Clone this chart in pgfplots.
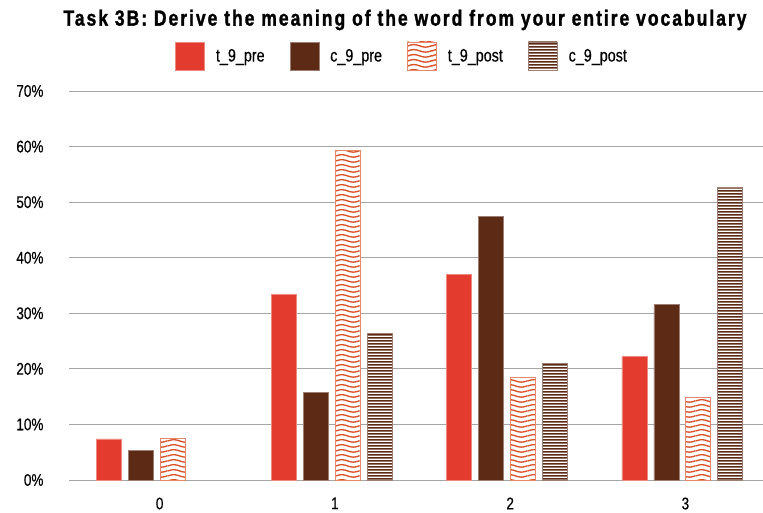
\documentclass[border=0pt]{standalone}
\usepackage{pgfplots}
\pgfplotsset{compat=1.18}
\usetikzlibrary{patterns.meta}
\usepackage{fontspec}
\setmainfont{Liberation Sans}[FakeStretch=0.8, FakeBold=0.4]
\newfontfamily\titlefont{Liberation Sans}[FakeStretch=0.8, LetterSpace=9, FakeBold=1.3]
\definecolor{tred}{HTML}{E33B2E}
\definecolor{cbrown}{HTML}{5C2A15}
\definecolor{worange}{HTML}{D9532B}
\definecolor{gridgray}{HTML}{A6A6A6}
\tikzdeclarepattern{
  name=wavy, type=uncolored,
  bounding box={(0bp,0bp) and (24bp,5bp)},
  tile size={(24bp,5bp)},
  code={\draw[line width=1.6bp] (-0.5bp,2.5bp) -- (0bp,2.5bp) sin (6bp,4bp) cos (12bp,2.5bp) sin (18bp,1bp) cos (24bp,2.5bp) -- (24.5bp,2.5bp);}
}
\tikzdeclarepattern{
  name=hstripes, type=uncolored,
  bounding box={(0bp,0bp) and (48bp,3bp)},
  tile size={(48bp,3bp)},
  code={\fill (-1bp,0.5bp) rectangle (49bp,2.5bp);}
}
\pgfplotstableread{
x tpre cpre tpost cpost
0 7.41 5.26 7.41 nan
1 33.33 15.79 59.26 26.32
2 37.04 47.37 18.52 21.05
3 22.22 31.58 14.81 52.63
}\data
\begin{document}
\begin{tikzpicture}
\useasboundingbox (-69bp,-33bp) rectangle (694bp,480bp);
\begin{axis}[
  scale only axis, width=694bp, height=389bp,
  ybar=7bp, bar width=25bp,
  xmin=-0.5, xmax=3.46, ymin=0, ymax=70,
  xtick={0,1,2,3}, xticklabels={0,1,2,3},
  ytick={0,10,...,70},
  yticklabel={\pgfmathprintnumber{\tick}\%},
  /pgf/number format/assume math mode=true,
  axis line style={draw=none},
  major tick length=0pt,
  ymajorgrids, grid style={gridgray, line width=1bp},
  tick label style={font=\fontsize{17}{20}\selectfont},
  yticklabel style={xshift=-22bp},
  xticklabel style={yshift=-14bp, xshift=3bp},
  legend columns=4,
  legend style={draw=none, at={(0.48,1.09)}, anchor=center, font=\fontsize{18}{20}\selectfont,
    /tikz/every odd column/.append style={column sep=9bp},
    /tikz/every even column/.append style={column sep=23bp}},
  legend image code/.code={\draw[#1] (0bp,-14bp) rectangle (29bp,14bp);},
  clip=false,
]
\addplot[fill=tred, draw=tred!60!white, line width=0.6bp] table[x=x,y=tpre] {\data};
\addlegendentry{t\_9\_pre}
\addplot[fill=cbrown, draw=cbrown!60!white, line width=0.6bp] table[x=x,y=cpre] {\data};
\addlegendentry{c\_9\_pre}
\addplot[fill=white, draw=worange!70!white, line width=0.8bp, postaction={pattern=wavy, pattern color=worange}] table[x=x,y=tpost] {\data};
\addlegendentry{t\_9\_post}
\addplot[fill=white, draw=cbrown!60!white, line width=0.8bp, postaction={pattern=hstripes, pattern color=cbrown}] table[x=x,y=cpost] {\data};
\addlegendentry{c\_9\_post}
\end{axis}
\node[font=\titlefont\bfseries\fontsize{22}{26}\selectfont] at (336bp,460bp) {Task 3B: Derive the meaning of the word from your entire vocabulary};
\end{tikzpicture}
\end{document}
